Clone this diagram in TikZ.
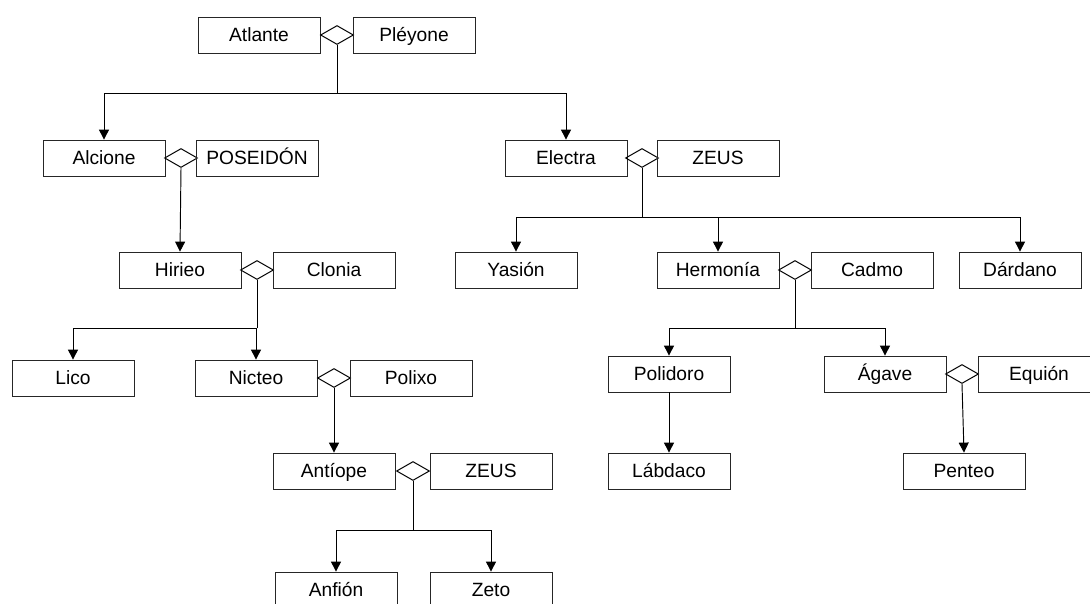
\documentclass[tikz,border=0pt]{standalone}
\usepackage{fontspec}
\setmainfont{Liberation Sans}
\usetikzlibrary{shapes.geometric,arrows.meta}
\begin{document}
\begin{tikzpicture}[x=1pt,y=-1pt,
  person/.style={draw=black!85,line width=0.8pt,minimum width=122pt,minimum height=36pt,
    inner sep=0pt,text height=14pt,text depth=0.6pt,font=\fontsize{19.2}{23}\selectfont},
  union/.style={draw=black,line width=1pt,shape=diamond,minimum width=33pt,minimum height=19pt,inner sep=0pt},
  link/.style={draw=black,line width=0.95pt},
  arr/.style={link,-{Triangle[length=10pt,width=10pt]}}]
\useasboundingbox (0,0) rectangle (1090,603);
% generation 1
\node[person] (atlante) at (259,35) {Atlante};
\node[union] (u1) at (337,35) {};
\node[person] (pleyone) at (414,35) {Pléyone};
% generation 2
\node[person] (alcione) at (104,158) {Alcione};
\node[union] (u2) at (181,158) {};
\node[person] (poseidon) at (257,158) {POSEIDÓN};
\node[person] (electra) at (566,158) {Electra};
\node[union] (u3) at (642,158) {};
\node[person] (zeus1) at (718,158) {ZEUS};
% generation 3
\node[person] (hirieo) at (180,270) {Hirieo};
\node[union] (u4) at (257,270) {};
\node[person] (clonia) at (334,270) {Clonia};
\node[person] (yasion) at (516,270) {Yasión};
\node[person] (hermonia) at (718,270) {Hermonía};
\node[union] (u5) at (795,270) {};
\node[person] (cadmo) at (872,270) {Cadmo};
\node[person] (dardano) at (1020,270) {Dárdano};
% generation 4
\node[person] (lico) at (73,378) {Lico};
\node[person] (nicteo) at (256,378) {Nicteo};
\node[union] (u6) at (334,378) {};
\node[person] (polixo) at (411,378) {Polixo};
\node[person] (polidoro) at (669,374) {Polidoro};
\node[person] (agave) at (885,374) {Ágave};
\node[union] (u7) at (962,374) {};
\node[person] (equion) at (1039,374) {Equión};
% generation 5
\node[person] (antiope) at (334,471) {Antíope};
\node[union] (u8) at (413,471) {};
\node[person] (zeus2) at (491,471) {ZEUS};
\node[person] (labdaco) at (669,471) {Lábdaco};
\node[person] (penteo) at (964,471) {Penteo};
% generation 6
\node[person] (anfion) at (336,590) {Anfión};
\node[person] (zeto) at (491,590) {Zeto};
% branching points
\coordinate (j1) at (337,93);
\coordinate (j2) at (642,217);
\coordinate (j3) at (257,328);
\coordinate (j4) at (795,328);
\coordinate (j5) at (413,530);
% descent lines
\draw[link] (u1.south) -- (j1);
\draw[arr] (j1) -| (alcione.north);
\draw[arr] (j1) -| (electra.north);
\draw[arr] (u2.south) -- (hirieo.north);
\draw[link] (u3.south) -- (j2);
\draw[arr] (j2) -| (yasion.north);
\draw[arr] (j2) -| (hermonia.north);
\draw[arr] (j2) -| (dardano.north);
\draw[link] (u4.south) -- (j3);
\draw[arr] (j3) -| (lico.north);
\draw[arr] (j3) -| (nicteo.north);
\draw[link] (u5.south) -- (j4);
\draw[arr] (j4) -| (polidoro.north);
\draw[arr] (j4) -| (agave.north);
\draw[arr] (u6.south) -- (antiope.north);
\draw[arr] (polidoro.south) -- (labdaco.north);
\draw[arr] (u7.south) -- (penteo.north);
\draw[link] (u8.south) -- (j5);
\draw[arr] (j5) -| (anfion.north);
\draw[arr] (j5) -| (zeto.north);
\end{tikzpicture}
\end{document}
